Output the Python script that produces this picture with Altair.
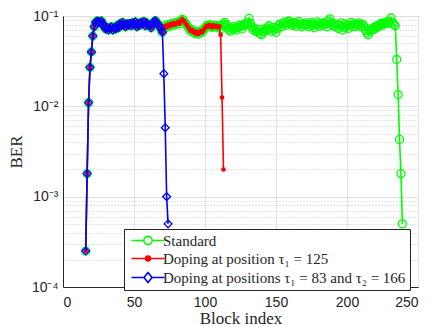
import altair as alt
import pandas as pd

# ---- data ----
shared_start = 16
shared_ber = [  # blocks 16..70, common to all three curves
    2.5e-4, 1.8e-3, 1.1e-2, 2.7e-2, 4.0e-2, 6.0e-2, 0.076, 0.085, 0.088, 0.087,
    0.085, 0.088, 0.082, 0.076, 0.072, 0.075, 0.070, 0.073, 0.076, 0.070,
    0.074, 0.072, 0.078, 0.074, 0.082, 0.078, 0.085, 0.080, 0.076, 0.082,
    0.079, 0.083, 0.078, 0.084, 0.080, 0.086, 0.076, 0.082, 0.079, 0.085,
    0.082, 0.087, 0.078, 0.084, 0.080, 0.078, 0.074, 0.082, 0.086, 0.089,
    0.085, 0.081, 0.077, 0.072, 0.066,
]
blue_tail = [0.023, 0.0058, 0.001, 0.0005]  # blocks 71..74
red_tail = [  # blocks 71..113
    0.072, 0.078, 0.075, 0.080, 0.077, 0.082, 0.079, 0.084, 0.080, 0.083,
    0.086, 0.082, 0.088, 0.092, 0.089, 0.084, 0.080, 0.076, 0.072, 0.068,
    0.070, 0.066, 0.064, 0.067, 0.063, 0.065, 0.068, 0.066, 0.070, 0.074,
    0.078, 0.076, 0.080, 0.077, 0.075, 0.079, 0.076, 0.078, 0.075, 0.077,
    0.062, 0.0125, 0.002,
]
green_tail = [  # blocks 111..239
    0.072, 0.078, 0.082, 0.085, 0.080, 0.074, 0.070, 0.068, 0.072, 0.076,
    0.073, 0.070, 0.075, 0.079, 0.076, 0.072, 0.078, 0.082, 0.080, 0.085,
    0.094, 0.083, 0.076, 0.070, 0.073, 0.068, 0.066, 0.071, 0.064, 0.062,
    0.067, 0.072, 0.069, 0.074, 0.078, 0.072, 0.068, 0.075, 0.071, 0.066,
    0.073, 0.079, 0.082, 0.076, 0.081, 0.086, 0.079, 0.084, 0.088, 0.083,
    0.079, 0.085, 0.081, 0.077, 0.083, 0.087, 0.080, 0.076, 0.082, 0.079,
    0.084, 0.080, 0.076, 0.081, 0.085, 0.078, 0.074, 0.080, 0.086, 0.082,
    0.077, 0.083, 0.079, 0.085, 0.081, 0.076, 0.088, 0.093, 0.084, 0.078,
    0.082, 0.076, 0.080, 0.073, 0.079, 0.084, 0.070, 0.075, 0.081, 0.077,
    0.073, 0.079, 0.085, 0.080, 0.076, 0.082, 0.078, 0.084, 0.080, 0.076,
    0.081, 0.077, 0.070, 0.065, 0.062, 0.068, 0.072, 0.070, 0.075, 0.073,
    0.078, 0.076, 0.080, 0.083, 0.079, 0.084, 0.082, 0.086, 0.083, 0.087,
    0.095, 0.085, 0.080, 0.078, 0.033, 0.0135, 0.0043, 0.0018, 0.0005,
]

series_names = [
    "Standard",
    "Doping at position τ₁ = 125",
    "Doping at positions τ₁ = 83 and τ₂ = 166",
]
series_colors = ["#00ff00", "#ff0000", "#0000ff"]
series_fills = ["transparent", "#ff0000", "transparent"]
x_ticks = [0, 50, 100, 150, 200, 250]
y_decades = [1e-4, 1e-3, 1e-2, 1e-1]

blue_vals = shared_ber + blue_tail
red_vals = shared_ber + red_tail
green_vals = red_vals[: 111 - shared_start] + green_tail


def frame(vals, name):
    return pd.DataFrame({
        "block": list(range(shared_start, shared_start + len(vals))),
        "ber": vals,
        "series": name,
    })


df_g = frame(green_vals, series_names[0])
df_r = frame(red_vals, series_names[1])
df_b = frame(blue_vals, series_names[2])
df_all = pd.concat([df_g, df_r, df_b], ignore_index=True)

y_values = []
for d in y_decades[:-1]:
    y_values += [d * k for k in range(1, 10)]
y_values.append(y_decades[-1])

decade_test = "abs(log(datum.value)/LN10 - round(log(datum.value)/LN10)) < 0.001"
y_label_expr = (
    f"({decade_test}) ? ("
    "datum.value > 0.05 ? '10⁻¹' : datum.value > 0.005 ? '10⁻²' : "
    "datum.value > 0.0005 ? '10⁻³' : '10⁻⁴') : ''"
)

x_enc = alt.X(
    "block:Q",
    scale=alt.Scale(domain=[0, 250], nice=False),
    axis=alt.Axis(
        values=x_ticks, title="Block index", grid=True, gridColor="#e3e3e3",
        ticks=False, labelFont="Liberation Sans", labelFontSize=14,
        labelColor="#262626", labelPadding=8, titleFont="Liberation Serif",
        titleFontSize=17, titleFontWeight="normal", titleColor="#262626",
        titlePadding=1, domainColor="#262626",
    ),
)
y_enc = alt.Y(
    "ber:Q",
    scale=alt.Scale(type="log", domain=[1e-4, 1e-1], nice=False),
    axis=alt.Axis(
        values=y_values, labelExpr=y_label_expr, title="BER", grid=True,
        gridColor={"condition": {"test": decade_test, "value": "#e0e0e0"}, "value": "#c8c8c8"},
        gridDash={"condition": {"test": decade_test, "value": []}, "value": [1, 2]},
        ticks=False, labelFont="Liberation Sans", labelFontSize=14,
        labelColor="#262626", labelPadding=5, titleFont="Liberation Serif",
        titleFontSize=17, titleFontWeight="normal", titleColor="#262626",
        titlePadding=6, domainColor="#262626", labelOverlap=False,
    ),
)

# legend symbols: line segment with the series marker in the middle
sym_circle = "M-1,0H2.095M4.155,0H7.25M4.155,0A1.03,1.03,0,1,1,2.095,0A1.03,1.03,0,1,1,4.155,0"
sym_dot = "M-1,0H7.25M3.725,0A0.6,0.6,0,1,1,2.525,0A0.6,0.6,0,1,1,3.725,0"
sym_diamond = "M-1,0H2.125M4.125,0H7.25M3.125,-1.25L4.125,0L3.125,1.25L2.125,0Z"

legend = alt.Legend(title=None, orient="none", legendX=61, legendY=213)

legend_layer = alt.Chart(df_all).mark_point(filled=False, opacity=0, size=64).encode(
    x=x_enc, y=y_enc,
    color=alt.Color("series:N", scale=alt.Scale(domain=series_names, range=series_colors), legend=legend),
    shape=alt.Shape("series:N", scale=alt.Scale(domain=series_names, range=[sym_circle, sym_dot, sym_diamond]), legend=legend),
    fill=alt.Fill("series:N", scale=alt.Scale(domain=series_names, range=series_fills), legend=legend),
)

green_line = alt.Chart(df_g).mark_line(strokeWidth=1.6, color=series_colors[0]).encode(
    x="block:Q", y="ber:Q")
green_pts = alt.Chart(df_g).mark_point(
    shape="circle", filled=False, size=64, strokeWidth=1.3, color=series_colors[0], opacity=1
).encode(x="block:Q", y="ber:Q")
red_line = alt.Chart(df_r).mark_line(strokeWidth=1.6, color=series_colors[1]).encode(
    x="block:Q", y="ber:Q")
red_pts = alt.Chart(df_r).mark_point(
    shape="circle", filled=True, size=22, color=series_colors[1], opacity=1
).encode(x="block:Q", y="ber:Q")
blue_line = alt.Chart(df_b).mark_line(strokeWidth=1.6, color=series_colors[2]).encode(
    x="block:Q", y="ber:Q")
blue_pts = alt.Chart(df_b).mark_point(
    shape="diamond", filled=False, size=60, strokeWidth=1.3, color=series_colors[2], opacity=1
).encode(x="block:Q", y="ber:Q")

chart = alt.layer(
    legend_layer, green_line, green_pts, red_line, red_pts, blue_line, blue_pts
).properties(
    width=355, height=271,
    autosize=alt.AutoSizeParams(type="none"),
    padding={"left": 55, "top": 8, "right": 6, "bottom": 40},
).configure_view(
    stroke="#262626", strokeWidth=1
).configure_legend(
    fillColor="white", strokeColor="#262626", padding=4,
    labelFont="Liberation Serif", labelFontSize=15, labelColor="#262626",
    labelOffset=20, symbolSize=64, symbolStrokeWidth=1.6, rowPadding=2,
    labelLimit=400, symbolOpacity=1,
)

chart.save("out.html", embed_options={"renderer": "svg", "actions": False})
